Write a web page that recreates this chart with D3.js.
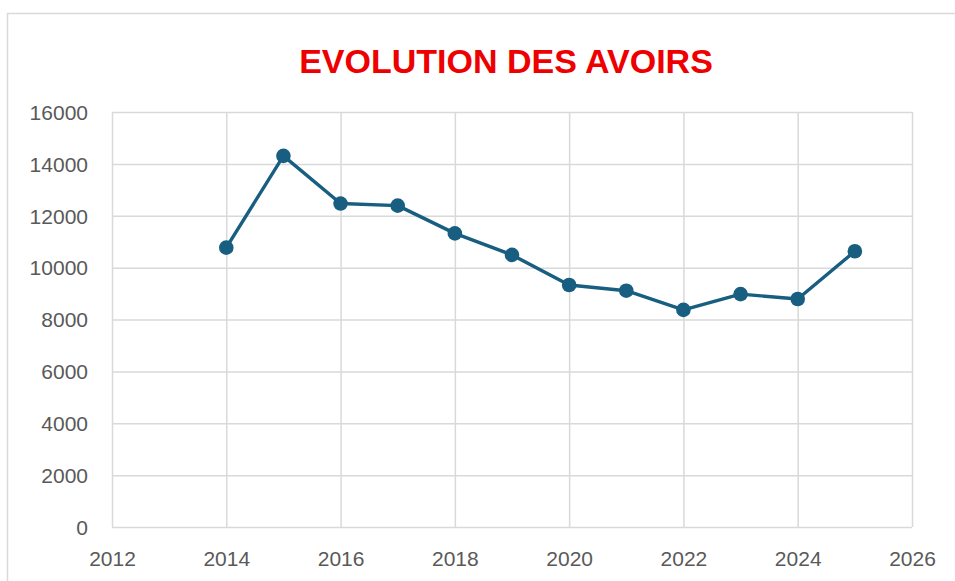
<!DOCTYPE html>
<html>
<head>
<meta charset="utf-8">
<script src="https://cdn.jsdelivr.net/npm/d3@7"></script>
<style>
  body { margin: 0; background: #fff; }
  svg { display: block; font-family: "Liberation Sans", Arial, sans-serif; }
</style>
</head>
<body>
<div id="chart"></div>
<script>
// données ------------------------------------------------------------
const years = [2014, 2015, 2016, 2017, 2018, 2019, 2020, 2021, 2022, 2023, 2024, 2025];
const avoirs = [10770, 14310, 12470, 12390, 11320, 10490, 9330, 9110, 8370, 8980, 8790, 10630];
const xTicks = [2012, 2014, 2016, 2018, 2020, 2022, 2024, 2026];
const yTicks = [0, 2000, 4000, 6000, 8000, 10000, 12000, 14000, 16000];
const title = 'EVOLUTION DES AVOIRS';

const width = 955, height = 581;
const margin = { top: 112, right: 43, bottom: 54, left: 112 };

const svg = d3.select('#chart').append('svg')
  .attr('width', width)
  .attr('height', height);

// cadre extérieur
svg.append('rect')
  .attr('x', 7.5).attr('y', 13.5)
  .attr('width', 1000).attr('height', 1000)
  .attr('fill', 'none')
  .attr('stroke', '#d9d9d9')
  .attr('stroke-width', 1.5);

// échelles
const xScale = d3.scaleLinear().domain([2012, 2026]).range([margin.left, width - margin.right]);
const yScale = d3.scaleLinear().domain([0, 16000]).range([height - margin.bottom, margin.top]);

// titre
svg.append('text')
  .attr('x', 506).attr('y', 73)
  .attr('text-anchor', 'middle')
  .attr('font-size', '34px')
  .attr('font-weight', 'bold')
  .attr('fill', '#ee0000')
  .text(title);

// grille
const gX = svg.append('g')
  .attr('class', 'axis')
  .attr('transform', 'translate(0,' + (height - margin.bottom) + ')')
  .call(d3.axisBottom(xScale).tickValues(xTicks).tickFormat(d3.format('d'))
    .tickSize(-(height - margin.top - margin.bottom)).tickPadding(24));
const gY = svg.append('g')
  .attr('class', 'axis')
  .attr('transform', 'translate(' + margin.left + ',0)')
  .call(d3.axisLeft(yScale).tickValues(yTicks).tickFormat(d3.format('d'))
    .tickSize(-(width - margin.left - margin.right)).tickPadding(24));
svg.selectAll('.axis path').remove();
svg.selectAll('.axis line')
  .attr('stroke', '#d9d9d9')
  .attr('stroke-width', 1.5);
svg.selectAll('.axis text')
  .attr('fill', '#595959')
  .attr('font-size', '21px')
  .attr('font-family', '"Liberation Sans", Arial, sans-serif');
gX.selectAll('text').attr('dy', '0.71em');
gY.selectAll('text').attr('dy', '0.35em');

// ligne
const dataset = years.map((y, i) => ({ year: y, value: avoirs[i] }));
svg.append('path')
  .datum(dataset)
  .attr('fill', 'none')
  .attr('stroke', '#185e80')
  .attr('stroke-width', 3.4)
  .attr('stroke-linejoin', 'round')
  .attr('d', d3.line().x(d => xScale(d.year)).y(d => yScale(d.value)));

svg.append('g')
  .selectAll('circle')
  .data(dataset)
  .enter()
  .append('circle')
  .attr('cx', d => xScale(d.year))
  .attr('cy', d => yScale(d.value))
  .attr('r', 7.3)
  .attr('fill', '#185e80');
</script>
</body>
</html>
